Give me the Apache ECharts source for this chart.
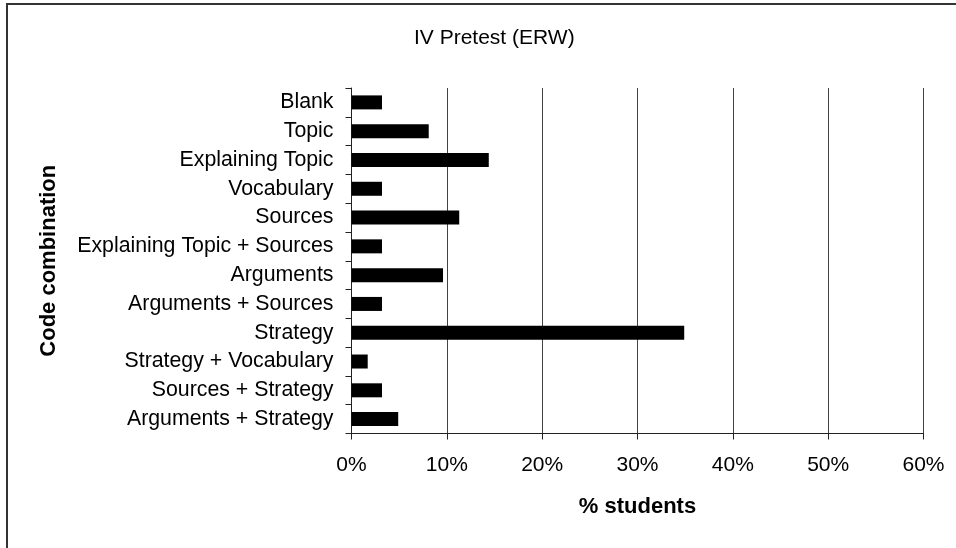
<!DOCTYPE html>
<html>
<head>
<meta charset="utf-8">
<title>IV Pretest (ERW)</title>
<script src="https://cdn.jsdelivr.net/npm/echarts@6/dist/echarts.min.js"></script>
<style>
  html, body { margin: 0; padding: 0; background: #fff; }
  #chart { width: 956px; height: 548px; }
</style>
</head>
<body>
<div id="chart"></div>
<script>
// categories, top to bottom
const categories = [
  'Blank',
  'Topic',
  'Explaining Topic',
  'Vocabulary',
  'Sources',
  'Explaining Topic + Sources',
  'Arguments',
  'Arguments + Sources',
  'Strategy',
  'Strategy + Vocabulary',
  'Sources + Strategy',
  'Arguments + Strategy'
];
// % students
const percents = [3.2, 8.1, 14.4, 3.2, 11.3, 3.2, 9.6, 3.2, 34.9, 1.7, 3.2, 4.9];
const xTicks = [0, 10, 20, 30, 40, 50, 60];

const font = '"Liberation Sans", Arial, sans-serif';
const chart = echarts.init(document.getElementById('chart'));

const option = {
  animation: false,
  backgroundColor: '#fff',
  title: {
    text: 'IV Pretest (ERW)',
    left: 409,
    top: 23,
    textStyle: { fontFamily: font, fontSize: 21, fontWeight: 'normal', color: '#000' }
  },
  graphic: [{
    type: 'rect',
    shape: { x: 7, y: 4, width: 1000, height: 600 },
    style: { fill: 'none', stroke: '#333', lineWidth: 2 },
    silent: true
  }],
  grid: { left: 351.5, right: 32.5, top: 88, bottom: 114.5 },
  xAxis: {
    type: 'value',
    min: xTicks[0],
    max: xTicks[xTicks.length - 1],
    interval: 10,
    name: '% students',
    nameLocation: 'middle',
    nameGap: 62,
    nameTextStyle: { fontFamily: font, fontSize: 22, fontWeight: 'bold', color: '#000' },
    axisLine: { show: true, lineStyle: { color: '#222', width: 1 } },
    axisTick: { show: true, length: 6, lineStyle: { color: '#222' } },
    axisLabel: {
      margin: 21,
      fontFamily: font, fontSize: 21, color: '#000',
      formatter: v => v + '%'
    },
    splitLine: { show: true, lineStyle: { color: '#444', width: 1 } }
  },
  yAxis: {
    type: 'category',
    data: categories,
    inverse: true,
    name: 'Code combination',
    nameLocation: 'middle',
    nameGap: 292,
    nameTextStyle: { fontFamily: font, fontSize: 22, fontWeight: 'bold', color: '#000' },
    axisLine: { show: true, lineStyle: { color: '#222', width: 1 } },
    axisTick: { show: true, length: 6, lineStyle: { color: '#222' } },
    axisLabel: { margin: 18, fontFamily: font, fontSize: 21.3, color: '#000', interval: 0 },
    splitLine: { show: false }
  },
  series: [{
    type: 'bar',
    data: percents,
    barWidth: 14,
    itemStyle: { color: '#000' }
  }]
};

chart.setOption(option);
</script>
</body>
</html>
